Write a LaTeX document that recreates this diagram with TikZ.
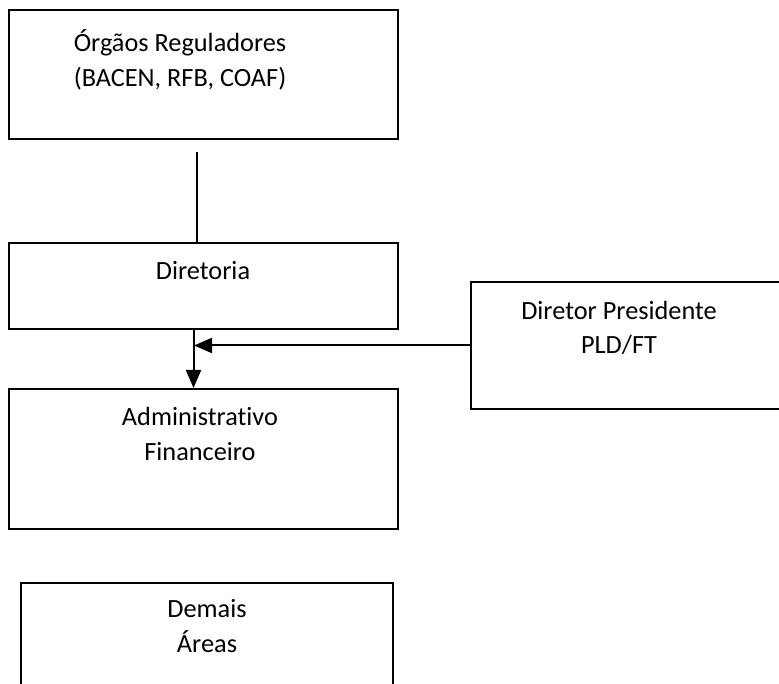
\documentclass[tikz,border=0pt]{standalone}
\usepackage{fontspec}
\setmainfont[Ligatures=NoCommon]{Carlito}
\usepackage{tikz}
\usetikzlibrary{positioning}
\usetikzlibrary{arrows.meta}

\begin{document}
\begin{tikzpicture}[x=1pt,y=-1pt,
  caixa/.style={draw,line width=2pt,inner sep=0pt},
  texto/.style={align=center,inner sep=0pt,font=\fontsize{26.3}{34.5}\selectfont},
  seta/.style={line width=2pt,-{Triangle[length=18pt,width=15pt]}}]
\useasboundingbox (0,0) rectangle (779,684);
\node[caixa,minimum width=389pt,minimum height=129pt] (orgaos) at (203.5,74.5) {};
\node[caixa,minimum width=389pt,minimum height=86pt,below=102pt of orgaos] (diretoria) {};
\node[caixa,minimum width=389pt,minimum height=140pt,below=58pt of diretoria] (adm) {};
\node[caixa,minimum width=372pt,minimum height=140pt,below=52pt of adm,xshift=3.5pt] (demais) {};
\node[caixa,minimum width=340pt,minimum height=127pt] (presidente) at (641,345.5) {};
\node[texto] (orgaostxt) at (180,60) {Órgãos Reguladores\\(BACEN, RFB, COAF)};
\node[texto] (diretoriatxt) at (203,271) {Diretoria};
\node[texto] (admtxt) at (200,434) {Administrativo\\Financeiro};
\node[texto] (presidentetxt) at (619,328) {Diretor Presidente\\PLD/FT};
\node[texto] (demaistxt) at (207,626) {Demais\\Áreas};
\coordinate (topo) at (197,152);
\draw[line width=2pt] (topo) -- (topo |- diretoria.north);
\draw[seta] ([xshift=-10pt]diretoria.south) -- ([xshift=-10pt]adm.north);
\draw[seta] (presidente.west) -- (presidente.west -| 194,0);
\end{tikzpicture}
\end{document}
